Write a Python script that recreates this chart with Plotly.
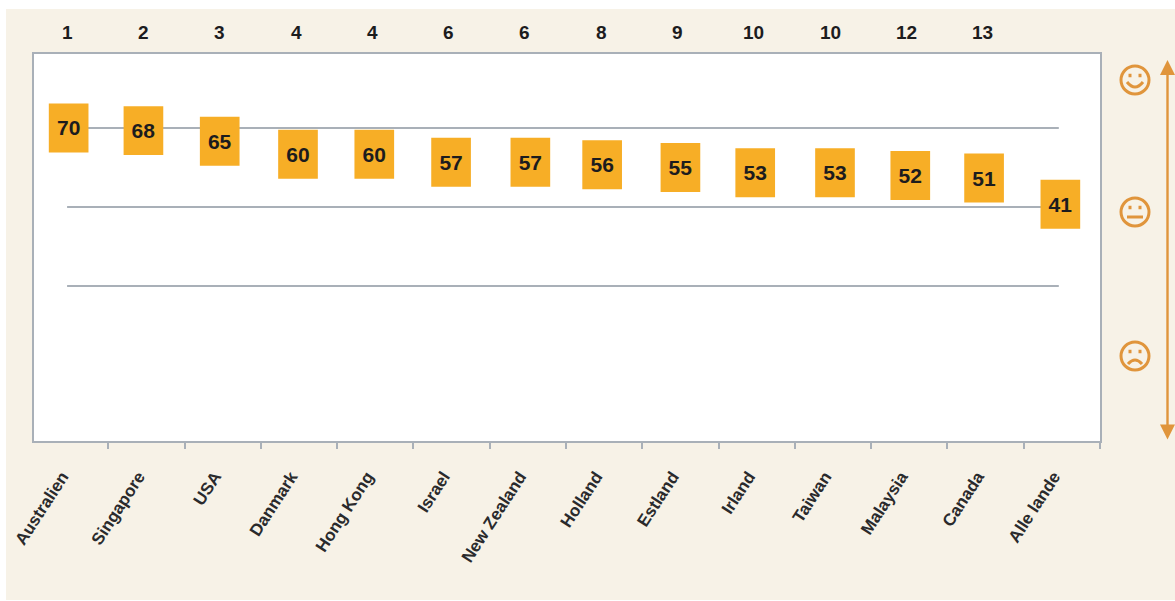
import plotly.graph_objects as go

categories = ["Australien", "Singapore", "USA", "Danmark", "Hong Kong", "Israel", "New Zealand",
              "Holland", "Estland", "Irland", "Taiwan", "Malaysia", "Canada", "Alle lande"]
scores = [70, 69, 65, 60, 60, 57, 57, 56, 55, 53, 53, 52, 51, 41]
score_labels = ["70", "68", "65", "60", "60", "57", "57", "56", "55", "53", "53", "52", "51", "41"]
ranks = ["1", "2", "3", "4", "4", "6", "6", "8", "9", "10", "10", "12", "13", ""]
grid_levels = [70, 40, 10]
box_nudge_px = [-1.5, -3, -3, -1, -1, -0.5, 2.5, -2, 0, -1.5, 2, 1, -1.5, -1.5]

CREAM = "#f7f2e7"
ORANGE = "#f7ae26"
ACCENT = "#e0953c"
LINE = "#a9b0b8"
INK = "#1c1c1e"
FONT = "Liberation Sans"

W, H = 1175, 601
L, R, T, B = 34, 1100, 54, 441
box_span = 18.6
box_width = 0.52
cat_px = (R - 32) / len(categories)


def px(x):
    return (x - L) / (R - L)


def py(y):
    return (B - y) / (B - T)


fig = go.Figure()
fig.add_bar(
    x=categories,
    y=[box_span] * len(scores),
    base=[s - box_span / 2 for s in scores],
    width=box_width,
    offset=[-box_width / 2 + n / cat_px for n in box_nudge_px],
    marker=dict(color=ORANGE, line=dict(width=0)),
    text=score_labels,
    textposition="inside",
    insidetextanchor="middle",
    textangle=0,
    insidetextfont=dict(family=FONT, size=21, color=INK, weight="bold"),
    hoverinfo="skip",
)

shapes = [
    dict(type="rect", xref="paper", yref="paper", x0=px(0), x1=px(W), y0=py(0), y1=py(9),
         fillcolor="white", line_width=0, layer="below"),
    dict(type="rect", xref="paper", yref="paper", x0=px(0), x1=px(6), y0=py(0), y1=py(H),
         fillcolor="white", line_width=0, layer="below"),
    dict(type="rect", xref="paper", yref="paper", x0=px(0), x1=px(W), y0=py(600), y1=py(H),
         fillcolor="white", line_width=0, layer="below"),
]
for level in grid_levels:
    shapes.append(dict(type="line", xref="x", yref="y", x0=-0.04, x1=12.96, y0=level, y1=level,
                       line=dict(color=LINE, width=2), layer="below"))


def face_shape(cx, cy, path=None, circle=None, width=3):
    base = dict(xref="paper", yref="paper", xsizemode="pixel", ysizemode="pixel",
                xanchor=px(cx), yanchor=py(cy), line=dict(color=ACCENT, width=width),
                fillcolor="rgba(0,0,0,0)")
    if circle:
        r = circle
        base.update(type="circle", x0=-r, x1=r, y0=-r, y1=r)
    else:
        base.update(type="path", path=path)
    return base


for cy, mouth in [
    (80, "M -8 -2 Q 0 -12 8 -2"),
    (212, "M -8 -5 L 8 -5"),
    (356, "M -7 -8 Q 0 0 7 -8"),
]:
    shapes.append(face_shape(1135, cy, circle=14))
    shapes.append(face_shape(1135, cy, path=mouth))
    for ex in (-5, 5):
        shapes.append(face_shape(1135, cy, path=f"M {ex-1.5} 4.5 L {ex+1.5} 4.5", width=3.5))

annotations = [
    dict(x=cat, xref="x", y=py(32), yref="paper", yanchor="middle", text=f"<b>{rank}</b>",
         showarrow=False, font=dict(family=FONT, size=19, color=INK), xshift=-3)
    for cat, rank in zip(categories, ranks) if rank
]
annotations.append(dict(
    x=px(1167.5), y=py(60), xref="paper", yref="paper",
    ax=0, ay=381, axref="pixel", ayref="pixel",
    text="", showarrow=True, arrowside="end+start", arrowhead=2, arrowsize=1.25,
    arrowwidth=2.4, arrowcolor=ACCENT,
))

fig.update_layout(
    width=W, height=H, autosize=False,
    margin=dict(l=L, r=W - R, t=T, b=H - B, pad=0),
    paper_bgcolor=CREAM, plot_bgcolor="white",
    showlegend=False, shapes=shapes, annotations=annotations,
    xaxis=dict(
        type="category", range=[-0.5 + 2 / cat_px, 13.5], tickson="boundaries", ticks="outside",
        ticklen=6, tickwidth=2, tickcolor=LINE, showline=True, linecolor=LINE, linewidth=2,
        mirror=True, showgrid=False, zeroline=False, tickangle=-57, ticklabelstandoff=17,
        ticklabelshift=-8,
        tickfont=dict(family=FONT, size=17, color="#2a2a2c", weight="bold"),
    ),
    yaxis=dict(
        range=[-48.87, 98.1], showticklabels=False, ticks="", showline=True, linecolor=LINE,
        linewidth=2, mirror=True, showgrid=False, zeroline=False,
    ),
)

fig.write_html(
    "out.html",
    config=dict(displayModeBar=False),
    post_script="document.body.style.margin='0';document.body.style.overflow='hidden';",
)
